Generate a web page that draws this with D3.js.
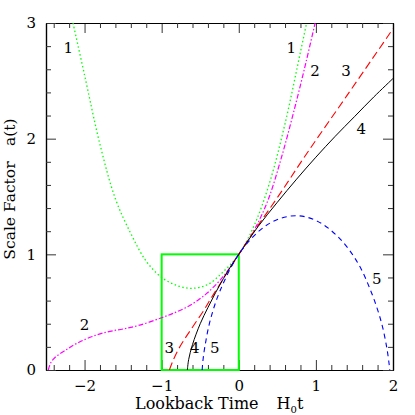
<!DOCTYPE html>
<html>
<head>
<meta charset="utf-8">
<script src="https://cdn.jsdelivr.net/npm/d3@7"></script>
<style>
  body { margin: 0; background: #fff; }
  text { font-family: "DejaVu Serif", "Liberation Serif", serif; fill: #000; }
</style>
</head>
<body>
<div id="container"></div>
<script>
// Set the dimensions of the canvas / graph
var margin = {top: 23, right: 22, bottom: 45, left: 46},
    width = 415 - margin.left - margin.right,
    height = 415 - margin.top - margin.bottom;

// curve 1: bouncing model (green dotted)
var t1 = [-2.15, -2.0, -1.8, -1.6, -1.4, -1.2, -1.0, -0.8, -0.61, -0.4, -0.2, 0, 0.2, 0.4, 0.6, 0.8, 0.88];
var a1 = [3.0, 2.55, 1.95, 1.48, 1.18, 0.94, 0.80, 0.73, 0.706, 0.74, 0.85, 1.0, 1.25, 1.62, 2.13, 2.75, 3.0];
// curve 2: loitering model (magenta dot-dash)
var t2 = [-2.47, -2.44, -2.38, -2.25, -2.1, -1.9, -1.7, -1.5, -1.3, -1.01, -0.85, -0.63, -0.42, -0.2, 0, 0.2, 0.38, 0.55, 0.7, 0.85, 0.99];
var a2 = [0, 0.06, 0.11, 0.17, 0.23, 0.29, 0.33, 0.355, 0.385, 0.45, 0.49, 0.56, 0.66, 0.81, 1.0, 1.21, 1.47, 1.83, 2.2, 2.6, 3.0];
// curve 3: open model (red long dash)
var t3 = [-0.90, -0.86, -0.79, -0.7, -0.59, -0.45, -0.35, -0.2, 0, 0.25, 0.5, 0.88, 1.4, 2.0];
var a3 = [0, 0.07, 0.17, 0.27, 0.38, 0.52, 0.63, 0.79, 1.0, 1.25, 1.49, 1.87, 2.37, 2.95];
// curve 4: flat model (black solid)
var t4 = [-0.667, -0.65, -0.6, -0.5, -0.4, -0.3, -0.2, -0.1, 0, 0.25, 0.5, 0.75, 1.0, 1.25, 1.5, 1.75, 2.0];
var a4 = [0, 0.09, 0.22, 0.40, 0.54, 0.67, 0.79, 0.90, 1.0, 1.24, 1.45, 1.65, 1.84, 2.02, 2.19, 2.36, 2.52];
// curve 5: closed model (blue dashed)
var t5 = [-0.475, -0.465, -0.44, -0.37, -0.24, 0, 0.26, 0.48, 0.745, 1.01, 1.29, 1.54, 1.72, 1.85, 1.92, 1.95, 1.958];
var a5 = [0, 0.08, 0.20, 0.43, 0.69, 1.0, 1.20, 1.295, 1.334, 1.29, 1.15, 0.93, 0.67, 0.41, 0.19, 0.05, 0];

var xTicks = [-2, -1, 0, 1, 2];
var yTicks = [0, 1, 2, 3];

// box around the region shown in the inset
var boxT = [-1, 0];
var boxA = [0, 1];

// curve labels
var labelText = ["1", "1", "2", "3", "4", "5", "2", "3", "4", "5"];
var labelT = [-2.21, 0.68, 0.99, 1.39, 1.59, 1.79, -2.0, -0.9, -0.57, -0.31];
var labelA = [2.79, 2.79, 2.59, 2.59, 2.09, 0.79, 0.39, 0.19, 0.19, 0.19];

var svg = d3.select("#container")
    .append("svg")
        .attr("width", width + margin.left + margin.right)
        .attr("height", height + margin.top + margin.bottom)
    .append("g")
        .attr("transform", "translate(" + margin.left + "," + margin.top + ")");

var x = d3.scaleLinear().domain([-2.5, 2]).range([0, width]);
var y = d3.scaleLinear().domain([0, 3]).range([height, 0]);

svg.append("defs").append("clipPath")
    .attr("id", "clip")
  .append("rect")
    .attr("width", width)
    .attr("height", height);

// minor ticks every 0.2
var xMinor = d3.range(-2.4, 2.0001, 0.2).filter(function(v){ return Math.abs(v - Math.round(v)) > 1e-6; });
var yMinor = d3.range(0.2, 3.0001, 0.2).filter(function(v){ return Math.abs(v - Math.round(v)) > 1e-6; });

var fmt = d3.format("d");

function styleAxis(g) {
  g.select(".domain").attr("stroke", "#000").attr("stroke-width", 1.2);
  g.selectAll(".tick line").attr("stroke", "#333");
  g.selectAll("text").style("font-size", "15px").attr("fill", "#000");
}

// bottom axis
svg.append("g").attr("transform", "translate(0," + height + ")")
    .call(d3.axisBottom(x).tickValues(xTicks).tickFormat(fmt).tickSizeInner(-10).tickSizeOuter(0).tickPadding(10))
    .call(styleAxis);
svg.append("g").attr("transform", "translate(0," + height + ")")
    .call(d3.axisBottom(x).tickValues(xMinor).tickSizeInner(-5).tickSizeOuter(0).tickFormat(""))
    .call(styleAxis);
// top axis
svg.append("g")
    .call(d3.axisTop(x).tickValues(xTicks).tickSizeInner(-10).tickSizeOuter(0).tickFormat(""))
    .call(styleAxis);
svg.append("g")
    .call(d3.axisTop(x).tickValues(xMinor).tickSizeInner(-5).tickSizeOuter(0).tickFormat(""))
    .call(styleAxis);
// left axis
svg.append("g")
    .call(d3.axisLeft(y).tickValues(yTicks).tickFormat(fmt).tickSizeInner(-10).tickSizeOuter(0).tickPadding(10))
    .call(styleAxis);
svg.append("g")
    .call(d3.axisLeft(y).tickValues(yMinor).tickSizeInner(-5).tickSizeOuter(0).tickFormat(""))
    .call(styleAxis);
// right axis
svg.append("g").attr("transform", "translate(" + width + ",0)")
    .call(d3.axisRight(y).tickValues(yTicks).tickSizeInner(-10).tickSizeOuter(0).tickFormat(""))
    .call(styleAxis);
svg.append("g").attr("transform", "translate(" + width + ",0)")
    .call(d3.axisRight(y).tickValues(yMinor).tickSizeInner(-5).tickSizeOuter(0).tickFormat(""))
    .call(styleAxis);

// green box
svg.append("rect")
    .attr("x", x(boxT[0]))
    .attr("y", y(boxA[1]))
    .attr("width", x(boxT[1]) - x(boxT[0]))
    .attr("height", y(boxA[0]) - y(boxA[1]))
    .style("fill", "none")
    .style("stroke", "#00ff00")
    .style("stroke-width", 2);

var line = d3.line()
    .x(function(d) { return x(d[0]); })
    .y(function(d) { return y(d[1]); })
    .curve(d3.curveCatmullRom.alpha(0.5));

var curves = [
  {t: t1, a: a1, color: "#00ff00", dash: "1.5,2.5", w: 1.3},
  {t: t2, a: a2, color: "#ff00ff", dash: "5,2,1.5,2", w: 1.2},
  {t: t3, a: a3, color: "#ff0000", dash: "8,4", w: 1.1},
  {t: t4, a: a4, color: "#000000", dash: null, w: 1.0},
  {t: t5, a: a5, color: "#0000ff", dash: "5,4", w: 1.1}
];

var plot = svg.append("g").attr("clip-path", "url(#clip)");
curves.forEach(function(c) {
  var pts = c.t.map(function(t, i) { return [t, c.a[i]]; });
  plot.append("path")
      .datum(pts)
      .attr("d", line)
      .style("fill", "none")
      .style("stroke", c.color)
      .style("stroke-width", c.w)
      .style("stroke-dasharray", c.dash);
});

// curve numbers
svg.selectAll(".clabel")
    .data(labelText)
  .enter().append("text")
    .attr("class", "clabel")
    .attr("x", function(d, i) { return x(labelT[i]); })
    .attr("y", function(d, i) { return y(labelA[i]); })
    .attr("dy", "0.35em")
    .style("text-anchor", "middle")
    .style("font-size", "15px")
    .text(function(d) { return d; });

// axis titles
var xt = svg.append("text")
    .attr("x", 89)
    .attr("y", height + 39)
    .style("text-anchor", "start")
    .style("font-size", "16px");
xt.append("tspan").text("Lookback Time");
xt.append("tspan").attr("dx", 18).text("H");
xt.append("tspan").attr("dy", 4).style("font-size", "10px").text("0");
xt.append("tspan").attr("dy", -4).text("t");

svg.append("text")
    .attr("transform", "rotate(-90)")
    .attr("x", -166)
    .attr("y", -margin.left + 15)
    .style("text-anchor", "middle")
    .style("font-size", "15.5px")
    .text("Scale Factor\u2003a(t)");
</script>
</body>
</html>
